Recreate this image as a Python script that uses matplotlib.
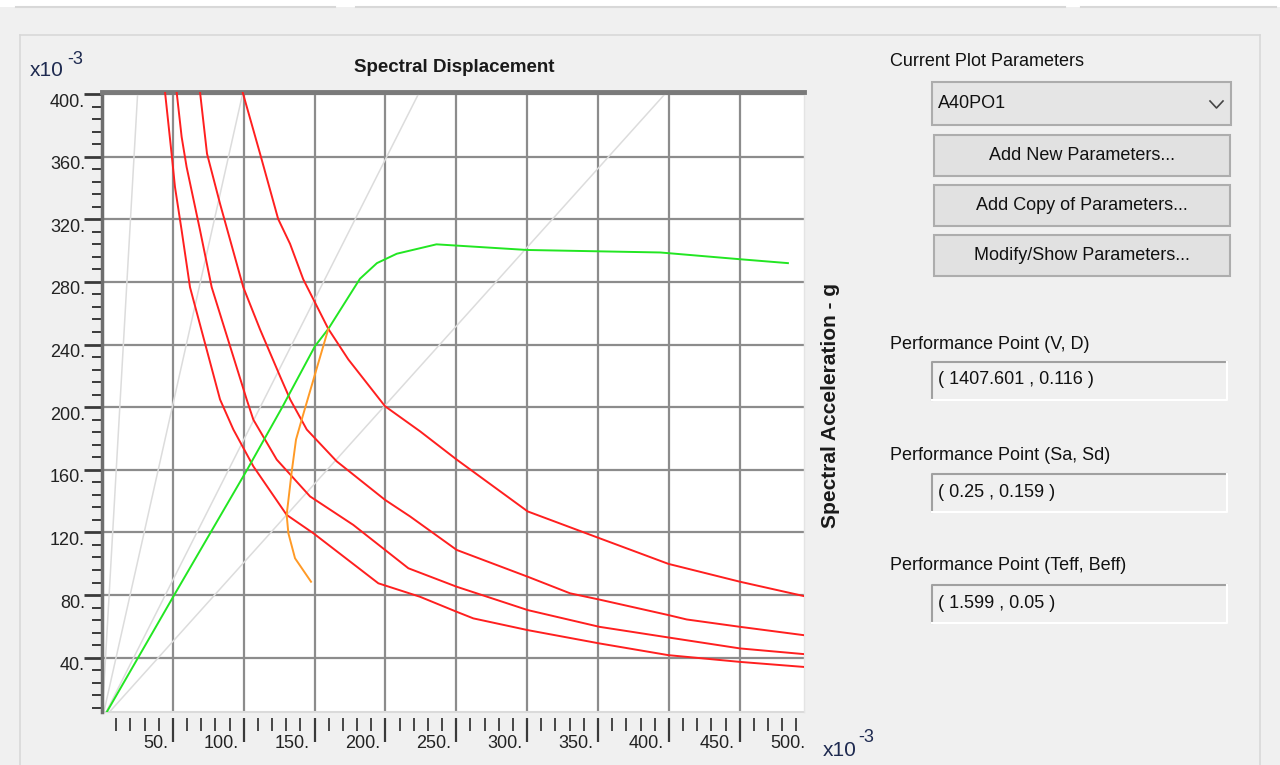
import matplotlib
matplotlib.use("Agg")
import matplotlib.pyplot as plt
from matplotlib.patches import Rectangle
from matplotlib.lines import Line2D
from matplotlib.transforms import blended_transform_factory, offset_copy

plt.rcParams["font.family"] = ["Liberation Sans", "DejaVu Sans"]

# Demand spectra (Sd in 1e-3 m, Sa in 1e-3 g)
demand_a_sd = [99.3, 111.5, 124.3, 132.7, 142.0, 159.7, 173.8, 199.7, 224.4, 250.3, 300.4, 351.0, 399.7, 450.2, 495.0]
demand_a_sa = [401.0, 362.0, 320.2, 304.3, 281.7, 250.0, 230.5, 200.6, 184.6, 166.5, 133.4, 116.3, 99.9, 88.5, 79.4]

demand_b_sd = [69.2, 74.1, 83.3, 99.7, 111.5, 125.6, 132.8, 144.5, 165.6, 199.7, 217.4, 250.3, 300.4, 330.3, 351.0, 399.7, 412.6, 450.2, 495.0]
demand_b_sa = [401.0, 361.9, 329.9, 276.6, 249.7, 219.8, 204.9, 185.7, 165.4, 140.8, 130.2, 108.8, 91.7, 81.1, 77.1, 67.2, 64.4, 59.7, 54.4]

demand_c_sd = [52.7, 56.2, 59.7, 69.2, 77.4, 102.1, 106.8, 123.3, 146.8, 177.3, 216.2, 250.3, 300.4, 351.0, 399.7, 450.2, 495.0]
demand_c_sa = [401.0, 372.6, 353.4, 312.9, 276.6, 204.9, 192.0, 166.5, 143.0, 124.8, 97.1, 85.3, 70.4, 59.7, 52.9, 45.9, 42.3]

demand_d_sd = [44.5, 49.1, 51.5, 56.2, 62.1, 83.3, 92.7, 106.8, 130.3, 149.1, 195.0, 224.4, 250.3, 262.0, 300.4, 351.0, 399.7, 450.2, 495.0]
demand_d_sa = [401.0, 361.9, 340.6, 312.9, 276.6, 204.9, 185.7, 162.2, 131.2, 119.5, 87.5, 78.9, 69.3, 65.1, 57.6, 49.1, 41.6, 37.3, 34.1]

# Capacity curve
capacity_sd = [0.0, 50.3, 102.0, 127.2, 150.3, 159.7, 182.0, 194.0, 208.0, 236.0, 300.0, 394.0, 450.0, 484.0]
capacity_sa = [0.0, 79.0, 159.4, 200.0, 239.0, 250.0, 282.0, 292.0, 298.0, 304.0, 300.4, 298.8, 294.5, 292.0]

# Single demand curve (orange)
single_sd = [147.5, 136.2, 131.5, 130.3, 133.9, 136.9, 140.9, 159.7]
single_sa = [88.5, 103.5, 119.5, 131.2, 159.0, 179.3, 192.0, 250.0]

# Constant period lines: Sd where they reach the top of the plot
period_sd_top = [25.2, 99.5, 224.0, 398.5]
period_sa_top = 401.3

x_major = [50, 100, 150, 200, 250, 300, 350, 400, 450]
x_minor = list(range(10, 495, 10))
x_labels = [50, 100, 150, 200, 250, 300, 350, 400, 450, 500]
y_major = [40, 80, 120, 160, 200, 240, 280, 320, 360, 400]
y_minor = list(range(8, 401, 8))

W, H = 1280, 765


def fx(px):
    return px / W


def fy(py):
    return 1 - py / H


fig = plt.figure(figsize=(12.8, 7.65), dpi=100, facecolor="#f0f0f0")

# window chrome
fig.add_artist(Rectangle((0, fy(7)), 1, 7 / H, transform=fig.transFigure, facecolor="white", edgecolor="none"))
for x0, x1 in [(16, 335), (356, 1065), (1081, 1276)]:
    fig.add_artist(Line2D([fx(x0), fx(x1)], [fy(7), fy(7)], transform=fig.transFigure, color="#d8d8d8", lw=1.5))
fig.add_artist(Line2D([fx(20), fx(1260)], [fy(35), fy(35)], transform=fig.transFigure, color="#d8d8d8", lw=1.2))
fig.add_artist(Line2D([fx(20), fx(20)], [fy(35), fy(765)], transform=fig.transFigure, color="#d8d8d8", lw=1.2))
fig.add_artist(Line2D([fx(1260), fx(1260)], [fy(35), fy(765)], transform=fig.transFigure, color="#d8d8d8", lw=1.2))

ax = fig.add_axes([fx(102), fy(712), (803.5 - 102) / W, (712 - 92) / H])
ax.set_facecolor("white")
ax.set_xlim(0, 495)
ax.set_ylim(5.3, 401.3)

for sd in period_sd_top:
    ax.plot([0, sd], [0, period_sa_top], color="#dcdcdc", lw=1.1, zorder=1)

ax.set_xticks(x_major)
ax.set_xticks(x_minor, minor=True)
ax.set_yticks(y_major)
ax.set_yticks(y_minor, minor=True)
ax.tick_params(labelbottom=False, labelleft=False)
ax.tick_params(axis="x", which="major", direction="out", length=17, width=1.6, color="#3a3a3a")
ax.tick_params(axis="x", which="minor", direction="out", length=9, width=1.3, color="#3a3a3a")
ax.tick_params(axis="y", which="major", direction="out", length=13, width=2.0, color="#3a3a3a")
ax.tick_params(axis="y", which="minor", direction="out", length=7, width=1.4, color="#3a3a3a")
ax.grid(True, which="major", color="#8c8c8c", lw=1.6, zorder=1.5)
ax.set_axisbelow(True)

ax.spines["left"].set_color("#6e6e6e")
ax.spines["left"].set_linewidth(2.5)
ax.spines["top"].set_color("#7a7a7a")
ax.spines["top"].set_linewidth(3.5)
ax.spines["right"].set_color("#e4e4e4")
ax.spines["right"].set_linewidth(1.0)
ax.spines["bottom"].set_position(("outward", 4))
ax.spines["bottom"].set_color("none")
ax.plot([0, 1], [0, 0], transform=ax.transAxes, color="#dadada", lw=1.5, clip_on=False)

red = "#ff1f1f"
for sd, sa in [(demand_a_sd, demand_a_sa), (demand_b_sd, demand_b_sa),
               (demand_c_sd, demand_c_sa), (demand_d_sd, demand_d_sa)]:
    ax.plot(sd, sa, color=red, lw=1.4, zorder=3)
ax.plot(capacity_sd, capacity_sa, color="#22e622", lw=1.4, zorder=4)
ax.plot(single_sd, single_sa, color="#ff9a26", lw=1.4, zorder=4)

# tick labels sit beside the tick, like the original program draws them
tx = offset_copy(blended_transform_factory(ax.transData, ax.transAxes), fig, x=-5, y=-32, units="dots")
for v in x_labels:
    ax.text(v, 0, f"{v}.", transform=tx, ha="right", va="center", fontsize=13, color="#222222")
ty = offset_copy(blended_transform_factory(ax.transAxes, ax.transData), fig, x=-17, y=-8, units="dots")
for v in y_major:
    ax.text(0, v, f"{v}.", transform=ty, ha="right", va="center", fontsize=13, color="#222222")

fig.text(fx(454), fy(68), "Spectral Displacement", ha="center", va="center", fontsize=13.5, fontweight="bold", color="#1a1a1a")
fig.text(fx(831), fy(406), "Spectral Acceleration - g", ha="center", va="center", rotation=90, fontsize=15, fontweight="bold", color="#1a1a1a")

navy = "#1e2a50"
fig.text(fx(30), fy(71), "x10", ha="left", va="center", fontsize=15, color=navy)
fig.text(fx(67), fy(59), "-3", ha="left", va="center", fontsize=13, color=navy)
fig.text(fx(823), fy(750), "x10", ha="left", va="center", fontsize=15, color=navy)
fig.text(fx(858), fy(738), "-3", ha="left", va="center", fontsize=13, color=navy)

# right-hand panel
fig.text(fx(890), fy(62), "Current Plot Parameters", ha="left", va="center", fontsize=13, color="#111111")
fig.add_artist(Rectangle((fx(932), fy(125)), 299 / W, 43 / H, transform=fig.transFigure,
                         facecolor="#e5e5e5", edgecolor="#acacac", lw=1.5))
fig.text(fx(938), fy(104), "A40PO1", ha="left", va="center", fontsize=13, color="#111111")
fig.add_artist(Line2D([fx(1210), fx(1216.5), fx(1223)], [fy(101), fy(108), fy(101)],
                      transform=fig.transFigure, color="#444444", lw=1.2))

buttons = ["Add New Parameters...", "Add Copy of Parameters...", "Modify/Show Parameters..."]
for i, name in enumerate(buttons):
    top = 135 + i * 50
    fig.add_artist(Rectangle((fx(934), fy(top + 41)), 296 / W, 41 / H, transform=fig.transFigure,
                             facecolor="#e1e1e1", edgecolor="#adadad", lw=1.5))
    fig.text(fx(1082), fy(top + 20.5), name, ha="center", va="center", fontsize=13, color="#111111")

pp_titles = ["Performance Point (V, D)", "Performance Point (Sa, Sd)", "Performance Point (Teff, Beff)"]
pp_values = ["( 1407.601 , 0.116 )", "( 0.25 , 0.159 )", "( 1.599 , 0.05 )"]
pp_label_y = [345, 456, 566]
pp_box_top = [362, 474, 585]
for title, val, ly, bt in zip(pp_titles, pp_values, pp_label_y, pp_box_top):
    fig.text(fx(890), fy(ly), title, ha="left", va="center", fontsize=13, color="#111111")
    x0, x1, y0, y1 = 932, 1227, bt, bt + 38
    fig.add_artist(Rectangle((fx(x0), fy(y1)), (x1 - x0) / W, (y1 - y0) / H, transform=fig.transFigure,
                             facecolor="#f0f0f0", edgecolor="none"))
    fig.add_artist(Line2D([fx(x0), fx(x0), fx(x1)], [fy(y1), fy(y0), fy(y0)], transform=fig.transFigure,
                          color="#a0a0a0", lw=1.5))
    fig.add_artist(Line2D([fx(x0), fx(x1), fx(x1)], [fy(y1), fy(y1), fy(y0)], transform=fig.transFigure,
                          color="#ffffff", lw=1.5))
    fig.text(fx(938), fy(bt + 18), val, ha="left", va="center", fontsize=13, color="#111111")

fig.savefig("out.png", dpi=100, facecolor=fig.get_facecolor())
